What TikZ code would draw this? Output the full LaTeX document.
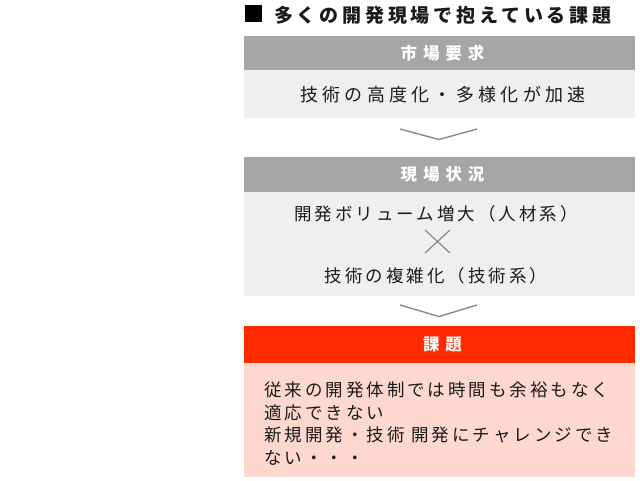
\documentclass[tikz,border=0pt]{standalone}
\usepackage{fontspec}
\setmainfont{Noto Sans CJK JP}
\newfontfamily\jptitle[LetterSpace=20]{Noto Sans CJK JP}
\newfontfamily\jphead[LetterSpace=36]{Noto Sans CJK JP}
\newfontfamily\jpwide[LetterSpace=24]{Noto Sans CJK JP}
\newfontfamily\jpbody[LetterSpace=17]{Noto Sans CJK JP}
\usepackage{xcolor}
\definecolor{colora6a6a6}{HTML}{a6a6a6}
\definecolor{colorefefef}{HTML}{efefef}
\definecolor{colorff2a00}{HTML}{ff2a00}
\definecolor{colorfdd8ce}{HTML}{fdd8ce}
\definecolor{color888888}{HTML}{888888}
\definecolor{color1a1a1a}{HTML}{1a1a1a}

\begin{document}
\begin{tikzpicture}
    [x=1pt, y=-1pt,
     headbox/.style={rectangle, fill=colora6a6a6, minimum width=391pt, inner sep=0pt, text=white, font=\jphead\fontsize{16.5}{19}\selectfont\bfseries, execute at begin node={\kern6pt}},
     bodybox/.style={rectangle, fill=colorefefef, minimum width=391pt, inner sep=0pt},
     bodytext/.style={inner sep=0pt, text=color1a1a1a, font=\jpbody\fontsize{17.5}{22.5}\selectfont},
     chevron/.style={draw=color888888, line width=1.4pt},
    ]

\useasboundingbox (0,0) rectangle (640,480);

% title
\node[rectangle, fill=black, minimum size=17pt, inner sep=0pt] (node_mark) at (253.5,13.5) {};
\node[anchor=west, inner sep=0pt, text=color1a1a1a, font=\jptitle\fontsize{19}{22}\selectfont\bfseries] (node_title) at (274,15) {多くの開発現場で抱えている課題};

% market
\node[headbox, minimum height=34pt] (node_market) at (439.5,53) {市場要求};
\node[bodybox, minimum height=48pt] (node_market_body) at (439.5,94) {};
\node[bodytext, font=\jpwide\fontsize{18}{20}\selectfont] (node_market_text) at (443,95) {技術の高度化・多様化が加速};
\draw[chevron] (400,129) -- (439,139.5) -- (477,129);

% site
\node[headbox, minimum height=35pt] (node_site) at (439.5,174.5) {現場状況};
\node[bodybox, minimum height=104pt] (node_site_body) at (439.5,244) {};
\node[bodytext] (node_site_people) at (436,213.5) {開発ボリューム増大（人材系）};
\draw[draw=color888888, line width=1.2pt] (425,230) -- (450,253) (425,253) -- (450,230);
\node[bodytext] (node_site_tech) at (436,275.5) {技術の複雑化（技術系）};
\draw[chevron] (400,305) -- (439,316.5) -- (477,305);

% issue
\node[headbox, fill=colorff2a00, minimum height=37pt] (node_issue) at (439.5,344.5) {課題};
\node[bodybox, fill=colorfdd8ce, minimum height=114pt] (node_issue_body) at (439.5,420) {};
\node[bodytext, anchor=west, align=left] (node_issue_text) at (264,423.5) {従来の開発体制では時間も余裕もなく\\適応できない\\新規開発・技術 開発にチャレンジでき\\ない・・・};

\end{tikzpicture}
\end{document}
